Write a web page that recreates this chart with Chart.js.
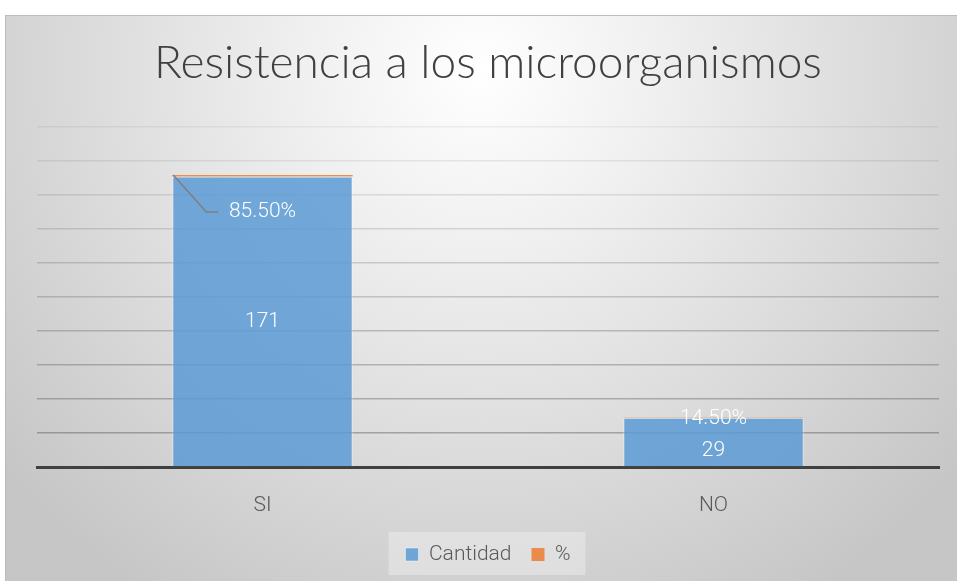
<!DOCTYPE html>
<html><head><meta charset="utf-8">
<script src="https://cdn.jsdelivr.net/npm/chart.js@4/dist/chart.umd.min.js"></script>
<style>html,body{margin:0;padding:0;background:#fff;overflow:hidden}canvas{display:block}</style>
</head><body>
<canvas id="c" width="957" height="581"></canvas>
<script>
// ---- data ----
const categories = ['SI', 'NO'];
const seriesNames = ['Cantidad', '%'];
const cantidad = [171, 29];
const porcentaje = [0.855, 0.145];
const yMax = 200;
const yStep = 20;
const chartTitle = 'Resistencia a los microorganismos';

// ---- plugins ----
const bgPlugin = {
  id: 'bg',
  beforeDraw(chart) {
    const { ctx, width, height } = chart;
    ctx.save();
    ctx.fillStyle = '#ffffff';
    ctx.fillRect(0, 0, width, height);
    const fx = 5, fy = 15, fw = width - fx, fh = height - fy;
    const g = ctx.createRadialGradient(480, 70, 0, 480, 70, 620);
    g.addColorStop(0, '#ffffff');
    g.addColorStop(0.3, '#efefef');
    g.addColorStop(1, '#c6c6c6');
    ctx.fillStyle = g;
    ctx.fillRect(fx, fy, fw, fh);
    ctx.strokeStyle = '#bcbcbc';
    ctx.lineWidth = 1;
    ctx.strokeRect(fx + 0.5, fy + 0.5, fw, fh);
    const lg = chart.legend;
    if (lg && lg.legendHitBoxes && lg.legendHitBoxes.length) {
      const hb = lg.legendHitBoxes;
      let l = Infinity, r = -Infinity, t = Infinity, b = -Infinity;
      hb.forEach(h => { l = Math.min(l, h.left); r = Math.max(r, h.left + h.width); t = Math.min(t, h.top); b = Math.max(b, h.top + h.height); });
      ctx.fillStyle = 'rgba(255,255,255,0.3)';
      ctx.fillRect(l - 17, t - 12, r - l + 32, b - t + 22);
    }
    ctx.restore();
  }
};

const labelPlugin = {
  id: 'barLabels',
  afterDatasetsDraw(chart) {
    const { ctx } = chart;
    const m0 = chart.getDatasetMeta(0);
    const m1 = chart.getDatasetMeta(1);
    ctx.save();
    ctx.font = '300 21px Roboto, "Open Sans", sans-serif';
    ctx.fillStyle = '#ffffff';
    ctx.textAlign = 'center';
    ctx.textBaseline = 'middle';
    m1.data.forEach((bar, i) => {
      const base = m0.data[i];
      const h = base.base - base.y;
      const txt = (porcentaje[i] * 100).toFixed(2) + '%';
      let pctY;
      if (h > 100) {
        // callout with leader line
        const left = base.x - base.width / 2;
        pctY = bar.y + 37;
        ctx.strokeStyle = '#7f7f7f';
        ctx.lineWidth = 1.5;
        ctx.beginPath();
        ctx.moveTo(left + 1, bar.y);
        ctx.lineTo(left + 34, pctY);
        ctx.lineTo(left + 46, pctY);
        ctx.stroke();
        ctx.fillText(txt, bar.x, pctY);
        ctx.fillText(String(cantidad[i]), base.x, (base.y + base.base) / 2);
      } else {
        pctY = bar.y + 1;
        ctx.fillText(txt, bar.x, pctY);
        ctx.fillText(String(cantidad[i]), base.x, Math.max((base.y + base.base) / 2, pctY + 32));
      }
    });
    ctx.restore();
  }
};

new Chart(document.getElementById('c'), {
  type: 'bar',
  data: {
    labels: categories,
    datasets: [
      { label: seriesNames[0], data: cantidad, backgroundColor: 'rgba(91,155,213,0.85)', borderColor: 'rgba(255,255,255,0.45)', borderWidth: 1, borderSkipped: 'bottom' },
      { label: seriesNames[1], data: porcentaje, backgroundColor: 'rgba(237,125,49,0.85)', borderColor: 'rgba(255,255,255,0.45)', borderWidth: 0 }
    ]
  },
  options: {
    responsive: false,
    animation: false,
    devicePixelRatio: 1,
    layout: { padding: { left: 37, right: 18, top: 15, bottom: 6 } },
    datasets: { bar: { barPercentage: 0.4, categoryPercentage: 1 } },
    scales: {
      x: {
        stacked: true,
        grid: { display: false, drawTicks: false },
        border: { display: true, color: '#404040', width: 3 },
        ticks: { color: '#595959', font: { family: 'Roboto', size: 21, weight: '300' }, padding: 26 },
        afterFit(scale) { scale.height = 57; }
      },
      y: {
        stacked: true,
        min: 0, max: yMax,
        ticks: { display: false, stepSize: yStep },
        border: { display: false },
        grid: {
          drawTicks: false,
          lineWidth: 1.5,
          color: (c) => {
            const v = c.tick ? c.tick.value : 0;
            const a = 0.07 + (yMax - v) / yMax * 0.33;
            return 'rgba(60,60,60,' + a.toFixed(3) + ')';
          }
        }
      }
    },
    plugins: {
      title: {
        display: true,
        text: chartTitle,
        color: '#404040',
        font: { family: 'Lato', size: 46, weight: '300' },
        padding: { top: 21, bottom: 36 }
      },
      legend: {
        position: 'bottom',
        labels: {
          color: '#595959',
          boxWidth: 13, boxHeight: 13,
          padding: 20,
          font: { family: 'Roboto', size: 21, weight: '300' }
        }
      },
      tooltip: { enabled: false }
    }
  },
  plugins: [bgPlugin, labelPlugin]
});
</script>
</body></html>
